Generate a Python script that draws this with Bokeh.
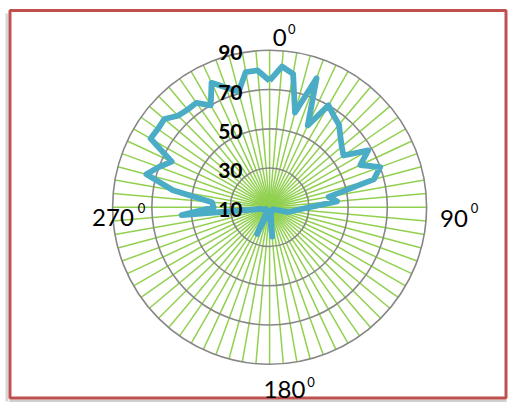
import numpy as np
from bokeh.plotting import figure
from bokeh.models import Range1d
from bokeh.core.properties import value
from bokeh.embed import file_html
from bokeh.resources import INLINE

# ---- data ----
angles_deg = list(range(0, 360, 5))
series = [74.5, 82, 79, 60, 80, 56, 70, 67, 65, 61, 58, 56,
          68, 61, 70, 65, 40.5, 44.5, 30, 24.5, 21.5, 19.5, 14, 13,
          12, 12, 12, 12, 12, 12, 12, 12, 12, 13, 14, 25,
          14, 12, 12, 12, 14, 25, 14, 12, 12, 12, 12, 12,
          12, 12, 13, 14, 15, 55, 38.5, 39.5, 60, 75, 70, 65,
          80, 79.5, 80, 76, 75, 75, 70, 80, 75, 71, 80, 80]
axis_min = 10
axis_max = 90
ring_values = [30, 50, 70, 90]
ring_labels = ["10", "30", "50", "70", "90"]
dir_labels = ["0", "90", "180", "270"]

# ---- layout helpers (picture pixels -> data units) ----
PX = 157.0 / (axis_max - axis_min)
CX, CY = 269.1, 206.8
W, H = 508, 402
def px(x):
    return (x - CX) / PX
def py(y):
    return (CY - y) / PX

p = figure(width=W, height=H, output_backend="svg", toolbar_location=None,
           x_range=Range1d(px(0), px(W)), y_range=Range1d(py(H), py(0)),
           min_border=0)
p.axis.visible = False
p.grid.visible = False
p.outline_line_color = None
p.background_fill_color = "white"
p.border_fill_color = "white"

# frame with shadow
p.segment(x0=[px(6.5)], y0=[py(13)], x1=[px(6.5)], y1=[py(401)], line_color="#d6d6d6", line_width=3)
p.segment(x0=[px(9)], y0=[py(400.5)], x1=[px(506)], y1=[py(400.5)], line_color="#cfcfcf", line_width=3)
p.quad(left=[px(9.5)], right=[px(505.5)], top=[py(10)], bottom=[py(397.5)],
       fill_color=None, line_color="#C0504D", line_width=3)

# spokes
th = np.deg2rad(np.array(angles_deg, dtype=float))
R = axis_max - axis_min
p.segment(x0=np.zeros(len(th)), y0=np.zeros(len(th)), x1=R * np.sin(th), y1=R * np.cos(th),
          line_color="#92D050", line_width=1.5)

# rings
p.circle(x=[0] * len(ring_values), y=[0] * len(ring_values),
         radius=[v - axis_min for v in ring_values],
         fill_color=None, line_color="#878787", line_width=1.6)

# data line
r = np.array(series, dtype=float) - axis_min
xs = list(r * np.sin(th)) + [r[0] * np.sin(th[0])]
ys = list(r * np.cos(th)) + [r[0] * np.cos(th[0])]
p.line(xs, ys, line_color="#4BACC6", line_width=5.8, line_join="round")

# radial labels
lab_v = [float(s) for s in ring_labels]
p.text(x=[px(242)] * len(ring_labels), y=[v - axis_min - 1.3 for v in lab_v], text=ring_labels,
       text_font=value("Lato"), text_font_size=value("21px"), text_font_style="bold",
       text_color="black", text_align="right", text_baseline="middle")

# direction labels
main_pos = [(279.2, 37.2), (453.5, 217.5), (284.0, 389.0), (112.5, 217.0)]
sup_pos = [(291.3, 28.7), (474.0, 207.0), (310.5, 381.0), (141.0, 207.0)]
p.text(x=[px(a) for a, b in main_pos], y=[py(b) for a, b in main_pos], text=dir_labels,
       text_font=value("Lato"), text_font_size=value("24px"), text_color="black",
       text_align="center", text_baseline="middle")
p.text(x=[px(a) for a, b in sup_pos], y=[py(b) for a, b in sup_pos], text=["0"] * 4,
       text_font=value("Lato"), text_font_size=value("13px"), text_color="black",
       text_align="center", text_baseline="middle")

open("out.html", "w").write(file_html(p, INLINE))
